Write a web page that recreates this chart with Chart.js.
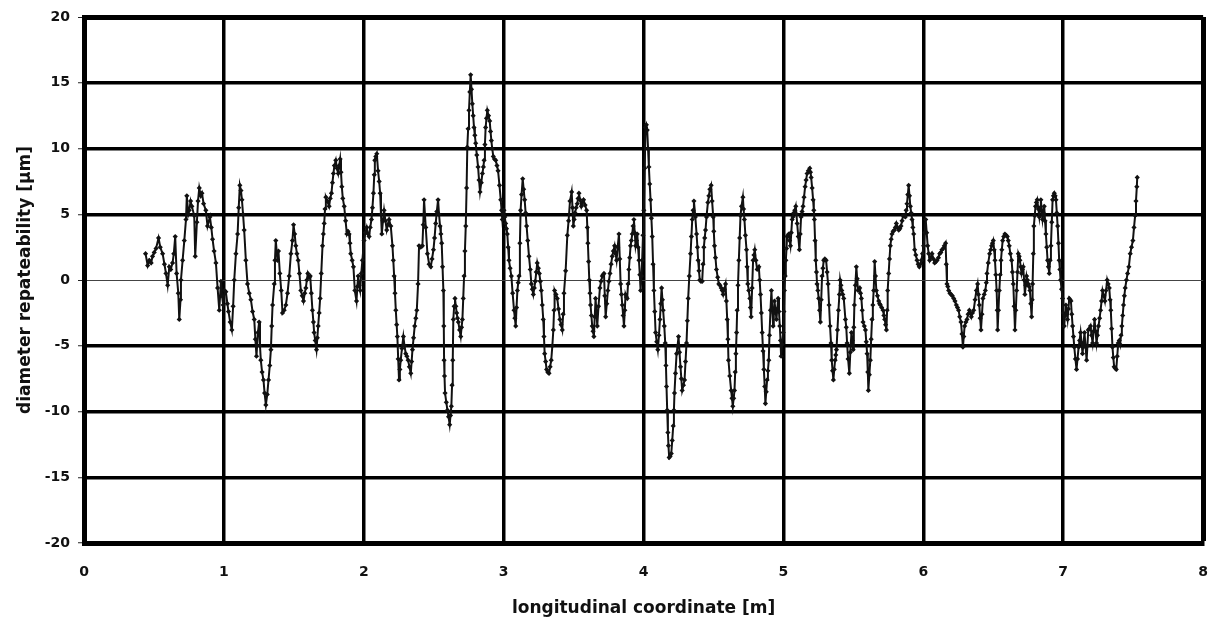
<!DOCTYPE html>
<html>
<head>
<meta charset="utf-8">
<title>diameter repeatability</title>
<script src="https://cdn.jsdelivr.net/npm/chart.js@4.4.1/dist/chart.umd.min.js"></script>
<style>
  html, body { margin: 0; padding: 0; background: #fff; }
  #wrap { width: 1210px; height: 621px; }
</style>
</head>
<body>
<div id="wrap"><canvas id="chart" width="1210" height="621"></canvas></div>
<script>
// longitudinal coordinate [m]
var coordM = [
  0.44,0.455,0.467,0.48,0.49,0.502,0.515,0.533,0.545,0.562,0.575,0.586,0.598,0.61,0.62,0.633,0.642,0.652,0.662,0.674,
  0.681,0.69,0.693,0.705,0.717,0.729,0.735,0.745,0.752,0.762,0.771,0.788,0.795,0.807,0.815,0.824,0.835,0.843,0.855,0.871,
  0.883,0.9,0.91,0.919,0.93,0.943,0.955,0.967,0.979,0.987,0.995,1.005,1.014,1.025,1.033,1.045,1.057,1.066,1.074,1.086,
  1.098,1.106,1.114,1.122,1.129,1.137,1.145,1.157,1.169,1.181,1.193,1.205,1.217,1.225,1.233,1.243,1.252,1.258,1.264,1.273,
  1.283,1.291,1.3,1.31,1.319,1.328,1.336,1.342,1.348,1.36,1.365,1.371,1.383,1.39,1.4,1.41,1.419,1.431,1.443,1.455,
  1.467,1.479,1.49,1.498,1.506,1.514,1.522,1.531,1.54,1.55,1.56,1.569,1.578,1.586,1.593,1.6,1.61,1.617,1.625,1.633,
  1.64,1.645,1.653,1.662,1.668,1.674,1.681,1.688,1.696,1.705,1.711,1.717,1.723,1.729,1.74,1.752,1.76,1.769,1.776,1.783,
  1.79,1.8,1.808,1.817,1.824,1.831,1.837,1.843,1.85,1.86,1.87,1.879,1.887,1.895,1.901,1.907,1.917,1.926,1.936,1.948,
  1.954,1.96,1.967,1.974,1.982,1.99,2.002,2.012,2.021,2.03,2.038,2.046,2.055,2.062,2.069,2.075,2.079,2.086,2.093,2.102,
  2.11,2.117,2.123,2.129,2.137,2.145,2.155,2.164,2.172,2.181,2.193,2.205,2.211,2.217,2.223,2.229,2.235,2.24,2.246,2.252,
  2.258,2.264,2.273,2.283,2.291,2.3,2.308,2.317,2.326,2.336,2.342,2.348,2.356,2.364,2.372,2.379,2.388,2.395,2.407,2.419,
  2.425,2.431,2.443,2.455,2.467,2.479,2.488,2.498,2.506,2.514,2.522,2.531,2.538,2.545,2.551,2.557,2.563,2.569,2.572,2.574,
  2.577,2.581,2.59,2.598,2.606,2.614,2.62,2.626,2.631,2.636,2.64,2.646,2.652,2.658,2.664,2.67,2.676,2.685,2.693,2.699,
  2.705,2.711,2.717,2.723,2.729,2.735,2.74,2.746,2.752,2.758,2.764,2.77,2.776,2.782,2.788,2.794,2.8,2.808,2.817,2.824,
  2.831,2.84,2.848,2.855,2.86,2.866,2.871,2.877,2.883,2.892,2.9,2.906,2.912,2.918,2.926,2.934,2.943,2.952,2.96,2.97,
  2.979,2.985,2.99,2.996,3.002,3.008,3.014,3.02,3.026,3.032,3.038,3.046,3.055,3.064,3.074,3.08,3.086,3.092,3.098,3.104,
  3.11,3.116,3.121,3.128,3.136,3.143,3.15,3.157,3.164,3.172,3.181,3.19,3.198,3.205,3.212,3.219,3.226,3.233,3.24,3.248,
  3.255,3.262,3.269,3.276,3.283,3.288,3.293,3.3,3.307,3.315,3.324,3.332,3.34,3.348,3.355,3.36,3.364,3.374,3.383,3.392,
  3.402,3.41,3.419,3.425,3.431,3.443,3.455,3.464,3.474,3.486,3.492,3.498,3.504,3.51,3.518,3.526,3.532,3.538,3.546,3.555,
  3.563,3.571,3.582,3.593,3.598,3.602,3.607,3.612,3.617,3.621,3.627,3.633,3.639,3.645,3.651,3.657,3.663,3.669,3.678,3.688,
  3.696,3.705,3.711,3.717,3.723,3.729,3.737,3.745,3.752,3.76,3.768,3.776,3.784,3.793,3.8,3.807,3.815,3.824,3.83,3.836,
  3.842,3.848,3.854,3.86,3.866,3.871,3.877,3.883,3.889,3.895,3.901,3.907,3.913,3.919,3.925,3.931,3.937,3.943,3.949,3.955,
  3.961,3.967,3.973,3.979,3.985,3.99,3.996,4.002,4.008,4.014,4.02,4.026,4.032,4.038,4.044,4.05,4.056,4.062,4.068,4.074,
  4.08,4.086,4.094,4.102,4.11,4.117,4.123,4.129,4.135,4.14,4.148,4.155,4.16,4.164,4.169,4.174,4.178,4.183,4.19,4.198,
  4.205,4.212,4.217,4.221,4.228,4.236,4.243,4.25,4.257,4.264,4.27,4.276,4.285,4.293,4.3,4.307,4.313,4.319,4.327,4.336,
  4.342,4.348,4.354,4.36,4.37,4.379,4.385,4.39,4.396,4.402,4.41,4.419,4.425,4.431,4.437,4.443,4.45,4.46,4.467,4.474,
  4.483,4.49,4.498,4.502,4.507,4.514,4.521,4.53,4.538,4.546,4.555,4.562,4.569,4.577,4.586,4.592,4.598,4.603,4.607,4.616,
  4.626,4.632,4.638,4.644,4.65,4.655,4.66,4.665,4.669,4.675,4.681,4.687,4.693,4.7,4.71,4.715,4.721,4.728,4.736,4.74,
  4.745,4.752,4.76,4.764,4.769,4.776,4.783,4.789,4.795,4.803,4.812,4.818,4.824,4.83,4.836,4.842,4.848,4.854,4.86,4.866,
  4.871,4.877,4.883,4.889,4.895,4.9,4.907,4.914,4.92,4.926,4.931,4.936,4.943,4.95,4.956,4.962,4.968,4.974,4.979,4.983,
  4.99,4.998,5.003,5.007,5.012,5.017,5.022,5.026,5.032,5.038,5.044,5.05,5.056,5.062,5.068,5.074,5.081,5.088,5.093,5.098,
  5.106,5.114,5.12,5.126,5.133,5.14,5.147,5.155,5.162,5.169,5.178,5.188,5.193,5.198,5.205,5.212,5.217,5.221,5.226,5.231,
  5.236,5.24,5.246,5.252,5.258,5.264,5.27,5.276,5.282,5.288,5.296,5.305,5.312,5.319,5.326,5.333,5.34,5.345,5.351,5.357,
  5.363,5.369,5.374,5.379,5.386,5.393,5.4,5.405,5.411,5.417,5.424,5.431,5.443,5.449,5.455,5.462,5.471,5.478,5.486,5.492,
  5.498,5.503,5.507,5.514,5.521,5.527,5.533,5.539,5.545,5.551,5.557,5.563,5.569,5.578,5.586,5.592,5.598,5.603,5.607,5.614,
  5.621,5.627,5.633,5.639,5.645,5.652,5.658,5.664,5.672,5.681,5.687,5.693,5.702,5.712,5.718,5.724,5.73,5.736,5.741,5.745,
  5.752,5.758,5.764,5.77,5.776,5.784,5.793,5.8,5.807,5.815,5.824,5.832,5.84,5.848,5.855,5.863,5.871,5.877,5.883,5.889,
  5.895,5.901,5.907,5.913,5.919,5.925,5.931,5.938,5.946,5.955,5.963,5.971,5.979,5.986,5.994,6.002,6.01,6.017,6.024,6.031,
  6.038,6.045,6.053,6.062,6.072,6.081,6.09,6.098,6.108,6.117,6.125,6.133,6.142,6.15,6.159,6.164,6.169,6.175,6.181,6.19,
  6.198,6.207,6.217,6.226,6.236,6.244,6.252,6.26,6.269,6.276,6.283,6.289,6.295,6.304,6.312,6.32,6.329,6.336,6.343,6.351,
  6.36,6.37,6.379,6.388,6.394,6.4,6.406,6.412,6.419,6.426,6.435,6.443,6.45,6.455,6.464,6.474,6.481,6.488,6.494,6.5,
  6.506,6.512,6.518,6.524,6.528,6.531,6.537,6.543,6.549,6.555,6.561,6.567,6.575,6.583,6.592,6.6,6.607,6.614,6.622,6.631,
  6.637,6.643,6.649,6.655,6.661,6.667,6.673,6.679,6.685,6.69,6.696,6.702,6.708,6.714,6.72,6.726,6.732,6.738,6.744,6.75,
  6.756,6.762,6.768,6.774,6.778,6.781,6.786,6.79,6.796,6.802,6.808,6.814,6.822,6.829,6.835,6.84,6.846,6.852,6.858,6.864,
  6.87,6.876,6.882,6.888,6.894,6.9,6.906,6.912,6.918,6.924,6.93,6.936,6.942,6.948,6.954,6.96,6.966,6.971,6.976,6.981,
  6.988,6.995,7.001,7.007,7.013,7.019,7.025,7.031,7.037,7.043,7.049,7.055,7.061,7.067,7.073,7.079,7.087,7.095,7.102,7.11,
  7.117,7.124,7.131,7.138,7.145,7.152,7.16,7.167,7.173,7.179,7.187,7.195,7.202,7.21,7.217,7.224,7.231,7.238,7.245,7.252,
  7.26,7.267,7.274,7.281,7.29,7.298,7.306,7.314,7.321,7.329,7.335,7.34,7.346,7.352,7.358,7.364,7.371,7.379,7.386,7.393,
  7.4,7.407,7.413,7.419,7.425,7.431,7.437,7.443,7.452,7.46,7.469,7.479,7.488,7.498,7.506,7.514,7.52,7.526,7.529
];

// diameter repeatability [um]
var repeatUm = [
  2.0,1.1,1.5,1.3,1.8,2.1,2.4,3.2,2.5,2.0,1.2,0.5,-0.4,1.0,0.8,1.3,2.0,3.3,0.5,-1.0,
  -3.0,-1.5,0.0,1.5,3.0,4.6,6.4,5.0,5.3,6.0,5.6,4.9,1.8,4.4,6.0,7.0,6.4,6.6,5.8,5.3,
  4.1,4.8,4.0,3.1,2.2,1.3,-0.6,-2.3,-0.1,-1.2,-1.9,-0.8,-0.9,-1.8,-2.4,-3.2,-3.8,-2.0,0.0,2.0,
  3.5,5.5,7.2,6.8,6.1,5.0,3.8,1.5,-0.3,-1.0,-1.5,-2.4,-3.0,-4.5,-5.8,-4.0,-3.2,-5.0,-6.1,-7.0,
  -7.6,-8.6,-9.5,-8.7,-7.6,-6.5,-5.3,-3.5,-1.9,-0.3,1.5,3.0,1.5,2.2,0.5,-0.8,-2.5,-2.3,-1.9,-1.0,
  0.3,2.0,3.0,4.2,3.5,2.6,2.0,1.5,0.5,-0.8,-1.2,-1.6,-1.0,-0.6,0.0,0.5,0.2,0.3,-1.0,-2.3,
  -3.2,-4.0,-4.6,-5.3,-4.4,-3.5,-2.5,-1.4,0.5,2.6,3.5,4.3,5.4,6.3,6.0,5.6,6.2,6.6,7.4,8.1,
  8.7,9.1,8.5,8.1,8.7,9.2,8.2,7.1,6.2,5.6,4.5,3.5,3.7,3.5,2.8,2.0,1.5,1.0,-0.8,-1.6,
  -0.5,0.3,-0.4,-0.8,0.5,1.5,3.0,3.6,4.0,3.5,3.3,4.0,4.6,5.5,6.6,8.0,9.1,9.4,9.6,8.3,
  7.5,6.6,5.0,3.5,4.5,5.3,4.5,3.8,4.2,4.6,4.1,2.6,1.5,0.3,-1.0,-2.3,-3.4,-4.3,-6.0,-7.6,
  -6.8,-6.1,-5.2,-4.3,-5.0,-5.6,-5.8,-6.1,-6.6,-7.1,-6.2,-5.3,-4.4,-3.5,-2.9,-2.3,-0.3,2.6,2.5,2.6,
  4.2,6.1,4.0,2.0,1.2,1.0,1.6,2.3,3.2,4.3,5.2,6.1,5.0,4.1,3.5,2.8,1.0,-0.8,-3.5,-6.1,
  -7.3,-8.6,-9.3,-9.9,-10.4,-11.0,-10.3,-9.6,-8.0,-6.1,-3.0,-2.0,-1.4,-2.0,-2.5,-2.9,-3.2,-3.8,-4.3,-3.6,
  -3.0,-1.4,0.3,2.2,4.1,7.0,10.1,11.5,12.9,14.3,15.6,14.5,13.4,12.5,11.6,11.0,10.4,9.5,8.6,7.6,
  6.7,7.4,8.1,8.6,9.1,10.3,11.6,12.3,12.9,12.5,12.1,11.3,10.6,10.0,9.4,9.2,9.1,8.7,8.3,7.2,
  6.1,5.3,4.6,5.0,5.3,4.8,4.3,3.9,3.5,2.5,1.5,0.9,0.3,-1.0,-2.3,-2.9,-3.5,-2.1,-0.8,-0.2,
  0.3,2.8,5.3,6.5,7.7,6.9,6.1,5.1,4.1,3.0,1.8,0.8,-0.3,-0.7,-1.1,-0.6,-0.1,0.6,1.3,0.9,
  0.5,-0.1,-0.8,-1.9,-3.0,-4.3,-5.6,-6.2,-6.8,-7.0,-7.1,-6.6,-6.1,-5.0,-3.8,-2.3,-0.8,-1.1,-1.4,-2.2,
  -3.0,-3.4,-3.8,-2.6,-1.0,0.7,3.4,4.5,6.0,6.7,5.5,4.1,4.6,5.1,5.5,5.8,6.2,6.6,6.1,5.6,
  5.9,6.1,5.7,5.3,4.0,2.8,1.4,0.0,-1.0,-1.9,-2.7,-3.5,-3.9,-4.3,-2.8,-1.4,-2.4,-3.5,-2.0,-0.6,
  -0.1,0.3,0.4,0.5,-1.2,-2.8,-1.8,-0.8,-0.1,0.5,1.2,1.8,2.2,2.6,2.0,1.5,2.5,3.5,1.6,-0.3,
  -1.1,-1.9,-2.7,-3.5,-2.3,-1.1,-1.3,-1.4,-0.3,0.8,1.7,2.6,3.0,3.5,4.1,4.6,3.6,2.6,3.0,3.5,
  2.5,1.5,0.4,-0.8,0.3,1.5,3.4,5.3,8.5,11.6,11.8,11.4,10.0,8.6,7.3,6.1,4.7,3.3,1.2,-0.8,
  -2.4,-4.0,-4.7,-5.3,-4.2,-3.0,-1.8,-0.6,-1.5,-2.3,-3.5,-4.8,-6.5,-8.1,-9.9,-11.6,-12.6,-13.5,-13.4,-13.2,
  -12.2,-11.1,-9.9,-8.6,-7.1,-5.6,-5.0,-4.3,-5.5,-6.6,-7.5,-8.4,-8.0,-7.6,-6.2,-4.8,-3.1,-1.4,0.3,2.0,
  3.3,4.6,5.3,6.0,4.8,3.5,2.5,1.5,0.7,0.0,-0.1,-0.1,1.2,2.5,3.2,3.8,4.8,5.9,6.4,6.9,
  7.2,6.0,4.8,3.7,2.6,1.7,0.8,0.2,-0.3,-0.4,-0.6,-0.8,-1.1,-0.7,-0.3,-1.6,-3.0,-4.5,-6.1,-7.3,
  -8.4,-9.0,-9.6,-9.0,-8.4,-7.0,-5.6,-4.0,-2.3,-0.4,1.5,3.2,4.9,5.6,6.3,5.4,4.6,3.4,2.3,1.0,
  -0.3,-0.8,-1.4,-2.1,-2.8,-0.6,1.5,1.9,2.3,1.5,0.8,0.9,1.0,0.0,-1.1,-2.5,-4.0,-5.4,-6.8,-8.1,
  -9.4,-8.5,-7.6,-6.9,-6.1,-4.2,-2.3,-0.8,-2.2,-3.5,-2.5,-1.6,-2.3,-3.0,-2.2,-1.4,-2.4,-3.5,-4.6,-5.8,
  -4.9,-4.0,-2.4,-0.8,0.3,1.5,2.4,3.3,3.4,3.5,3.0,2.6,3.6,4.6,4.8,5.1,5.3,5.6,5.0,4.3,
  3.3,2.3,3.5,4.8,5.2,5.6,6.3,7.1,7.6,8.1,8.3,8.5,8.2,7.8,7.0,6.1,5.3,4.6,3.0,1.5,
  0.6,-0.3,-0.8,-1.4,-2.3,-3.2,-1.5,0.3,0.9,1.5,1.6,1.5,0.6,-0.3,-1.9,-3.5,-4.8,-6.1,-6.9,-7.6,
  -6.8,-6.1,-5.7,-5.3,-3.8,-2.3,-1.1,0.0,-0.4,-0.8,-1.1,-1.4,-3.0,-3.6,-4.8,-6.0,-7.1,-5.5,-4.0,-4.6,
  -5.3,-3.6,-1.9,-0.4,1.0,0.1,-0.8,-0.7,-0.6,-1.0,-1.4,-2.3,-3.2,-3.5,-3.8,-4.7,-5.6,-7.0,-8.4,-7.2,
  -6.1,-4.5,-3.0,-1.9,-0.8,1.4,0.3,-0.8,-1.2,-1.6,-1.8,-1.9,-2.1,-2.3,-2.7,-3.0,-3.4,-3.8,-2.3,-0.8,
  0.5,1.6,2.6,3.1,3.5,3.7,3.8,4.0,4.3,4.0,3.8,3.9,4.1,4.5,4.9,4.9,4.8,5.3,5.8,6.5,
  7.2,6.4,5.6,5.1,4.6,4.0,3.5,2.3,1.9,1.5,1.2,1.0,1.2,1.5,2.0,2.6,3.6,4.6,3.6,2.6,
  2.0,1.5,1.7,2.0,1.6,1.3,1.4,1.5,1.7,2.0,2.1,2.3,2.4,2.6,2.8,1.2,-0.3,-0.5,-0.8,-1.0,
  -1.1,-1.2,-1.4,-1.6,-1.9,-2.1,-2.3,-2.8,-3.2,-4.1,-5.1,-4.3,-3.5,-3.2,-3.0,-2.6,-2.3,-2.5,-2.8,-2.5,
  -2.3,-1.5,-0.8,-0.3,-1.1,-1.9,-2.9,-3.8,-2.6,-1.4,-1.1,-0.8,-0.2,0.5,1.3,2.0,2.3,2.6,2.8,3.0,
  2.3,1.5,0.4,-0.8,-2.3,-3.8,-2.3,-0.8,0.4,1.5,2.3,3.0,3.3,3.5,3.4,3.3,3.0,2.6,2.0,1.5,
  0.6,-0.3,-2.0,-3.8,-2.3,-0.8,0.6,2.0,1.8,1.5,1.0,0.5,0.8,1.0,0.0,-1.1,-0.4,0.3,0.0,-0.3,
  -0.5,-0.8,-1.8,-2.8,-1.5,-0.3,2.0,4.1,4.9,5.6,5.9,6.1,5.4,4.8,5.5,6.1,5.3,4.6,5.1,5.6,
  4.5,3.5,2.5,1.5,1.0,0.5,1.5,2.6,4.4,6.1,6.4,6.6,6.4,6.1,5.1,4.1,2.8,1.5,0.8,0.0,
  -0.7,-1.4,-2.5,-3.5,-2.7,-1.9,-2.5,-3.0,-2.2,-1.4,-1.5,-1.6,-2.6,-3.5,-4.3,-5.1,-6.0,-6.8,-6.0,-5.1,
  -4.6,-4.0,-4.8,-5.6,-4.8,-4.0,-5.1,-6.1,-5.0,-3.8,-3.7,-3.5,-4.2,-4.8,-3.9,-3.0,-3.9,-4.8,-4.2,-3.5,
  -2.9,-2.3,-1.6,-0.8,-1.2,-1.6,-0.8,0.0,-0.3,-0.6,-1.5,-2.3,-3.7,-5.1,-5.9,-6.6,-6.7,-6.8,-5.8,-4.8,
  -4.6,-4.9,-4.2,-3.5,-2.7,-1.9,-1.2,-0.6,0.0,0.5,1.0,2.0,2.5,3.0,4.0,4.9,6.0,7.1,7.8
];

var xTicksMin = 0, xTicksMax = 8, xStep = 1;
var yTicksMin = -20, yTicksMax = 20, yStep = 5;

var points = coordM.map(function (x, i) { return { x: x, y: repeatUm[i] }; });

var fontFamily = '"DejaVu Sans", "Open Sans", sans-serif';

var options = {
  type: 'line',
  data: {
    datasets: [
      {
        label: 'diameter repeatability',
        data: points,
        borderColor: '#111',
        backgroundColor: '#111',
        borderWidth: 2,
        pointStyle: 'rectRot',
        pointRadius: 2.6,
        pointBorderWidth: 0,
        tension: 0
      }
    ]
  },
  options: {
    responsive: false,
    animation: false,
    layout: { padding: { top: 17, right: 6, left: 0, bottom: 0 } },
    plugins: {
      legend: { display: false },
      tooltip: { enabled: false }
    },
    scales: {
      x: {
        type: 'linear',
        min: xTicksMin,
        max: xTicksMax,
        ticks: {
          stepSize: xStep,
          color: '#111',
          padding: 2,
          font: { family: fontFamily, size: 14, weight: 'bold' }
        },
        grid: {
          color: '#000',
          drawTicks: true,
          tickLength: 19,
          tickColor: 'rgba(0,0,0,0)',
          lineWidth: function (ctx) {
            return ctx.tick && ctx.tick.value === xTicksMax ? 5 : 3.5;
          }
        },
        border: { display: true, color: '#000', width: 5 },
        title: {
          display: true,
          text: 'longitudinal coordinate [m]',
          color: '#111',
          padding: { top: 0, bottom: 2 },
          font: { family: fontFamily, size: 17, weight: 'bold' }
        },
        afterFit: function (scale) { scale.height = 78; }
      },
      y: {
        min: yTicksMin,
        max: yTicksMax,
        ticks: {
          stepSize: yStep,
          color: '#111',
          padding: 8,
          font: { family: fontFamily, size: 14, weight: 'bold' }
        },
        grid: {
          color: function (ctx) {
            return ctx.tick && ctx.tick.value === 0 ? '#444' : '#000';
          },
          lineWidth: function (ctx) {
            if (!ctx.tick) return 3.5;
            if (ctx.tick.value === 0) return 1;
            if (ctx.tick.value === yTicksMax) return 5;
            return 3.5;
          },
          tickLength: 6,
          tickWidth: 1,
          tickColor: '#222'
        },
        border: { display: true, color: '#000', width: 5 },
        title: {
          display: true,
          text: 'diameter repateability [μm]',
          color: '#111',
          padding: { top: 15, bottom: 0 },
          font: { family: fontFamily, size: 17, weight: 'bold' }
        },
        afterFit: function (scale) { scale.width = 84; }
      }
    }
  }
};

var ctx = document.getElementById('chart').getContext('2d');
new Chart(ctx, options);
</script>
</body>
</html>
